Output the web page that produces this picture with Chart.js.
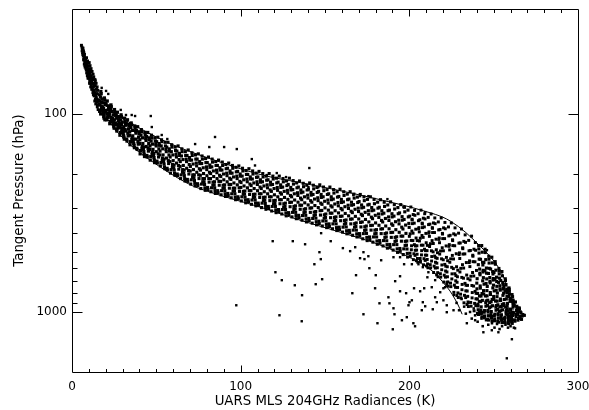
<!DOCTYPE html>
<html>
<head>
<meta charset="utf-8">
<script src="https://cdn.jsdelivr.net/npm/chart.js@4.4.1/dist/chart.umd.min.js"></script>
<style>
html,body{margin:0;padding:0;background:#fff;}
canvas{display:block;}
</style>
</head>
<body>
<canvas id="c" width="589" height="410"></canvas>
<script>
// Radiance (K) vs tangent pressure (hPa) pairs, grouped by region of the plot.
const tipBand = [
[5.6,45],[5.9,46],[6.2,47],[6.0,48],[6.5,46.5],[6.8,48],[6.4,50],[7.0,49],[7.2,51],[6.9,53],[7.5,52],[7.6,55],[7.9,54],[7.3,56],[8.1,57],[8.3,55],[7.8,58],
[8.6,52],[8.8,56],[8.5,60],[9.0,58],[9.2,54],[9.4,62],[9.1,64],[9.7,57],[9.8,61],[10.0,66],[9.6,65],[10.2,55],[10.3,63],[10.5,68],[10.1,59],
[10.7,57],[10.8,62],[11.0,66],[10.9,70],[11.3,59],[11.4,64],[11.6,68],[11.5,72],[11.9,61],[12.0,66],[12.2,70],[12.1,75],[12.5,63],[12.6,73],[12.4,78],
[12.9,65],[13.0,70],[13.1,76],[13.2,81],[13.6,67],[13.8,72],[13.7,78],[13.9,84],[14.3,70],[14.5,75],[14.4,82],[14.6,87],[14.9,73],[15.0,79],[15.2,85],[15.1,90],
[6.3,49],[6.7,51],[7.1,53.5],[7.4,50],[7.7,57],[8.0,53],
[8.3,59],[8.7,62],[8.9,55],[9.3,60],[9.5,66],[9.9,63],[10.4,60],
[10.4,70],[10.6,65],[11.1,73],[11.2,61],[11.7,75],[11.8,70],[12.3,67],[12.7,80],
[12.8,77],[13.3,72],[13.5,86],[13.8,68],[14.0,80],[14.1,89],
[14.7,84],[15.0,92],[15.3,76],[15.5,95],[15.9,85],[16.2,80]
];

const upperBand = [
[16.1,89],[17.3,79],[16.7,96],[17.8,84],[16.4,97],[17.1,77],[17.6,92],[16.2,86],[16.9,82],[17.5,94],
[19.2,83],[18.3,98],[19.7,88],[18.8,103],[18.0,92],[19.4,85],[18.5,96],[19.0,105],[19.9,90],[18.6,100],
[20.6,107],[21.5,95],[20.2,89],[21.1,99],[21.8,92],[20.4,106],[20.9,86],[21.3,102],[20.0,97],[21.7,91],
[22.1,102],[23.3,92],[22.7,109],[23.8,97],[22.4,112],[23.1,90],[23.6,105],[22.2,99],[22.9,95],[23.5,107],
[25.2,95],[24.3,111],[25.7,100],[24.8,116],[24.0,105],[25.4,98],[24.5,109],[25.0,118],[25.9,102],[24.6,113],
[26.6,122],[27.5,108],[26.2,101],[27.1,113],[27.8,104],[26.4,120],[26.9,98],[27.3,116],[26.0,111],[27.7,103],
[28.1,116],[29.3,103],[28.7,124],[29.8,110],[28.4,128],[29.1,101],[29.6,119],[28.2,112],[28.9,107],[29.5,122],
[31.2,105],[30.3,125],[31.7,112],[30.8,131],[30.0,118],[31.4,109],[30.5,122],[31.0,134],[31.9,114],[30.6,128],
[32.6,137],[33.5,119],[32.2,111],[33.1,125],[33.8,115],[32.4,134],[32.9,107],[33.3,129],[32.0,122],[33.7,113],
[34.1,128],[35.3,113],[34.7,138],[35.8,121],[34.4,143],[35.1,111],[35.6,132],[34.2,123],[34.9,117],[35.5,135],
[37.2,115],[36.3,138],[37.7,122],[36.8,144],[36.0,129],[37.4,118],[36.5,134],[37.0,148],[37.9,125],[36.6,141],
[38.6,151],[39.5,131],[38.2,121],[39.1,138],[39.8,126],[38.4,149],[38.9,116],[39.3,142],[38.0,134],[39.7,123],
[40.1,141],[41.3,123],[40.7,153],[41.8,132],[40.4,159],[41.1,120],[41.6,146],[40.2,135],[40.9,128],[41.5,150],
[43.2,124],[42.3,151],[43.7,133],[42.8,160],[42.0,141],[43.4,128],[42.5,147],[43.0,164],[43.9,136],[42.6,155],
[44.6,165],[45.5,141],[44.2,130],[45.1,149],[45.8,135],[44.4,162],[44.9,124],[45.3,154],[44.0,146],[45.7,132],
[46.1,151],[47.3,132],[46.7,164],[47.8,142],[46.4,171],[47.1,128],[47.6,156],[46.2,145],[46.9,137],[47.5,160],
[49.2,132],[48.3,162],[49.7,142],[48.8,171],[48.0,151],[49.4,137],[48.5,158],[49.0,176],[49.9,145],[48.6,166],
[16.6,90],[17.0,100],[17.4,87],[17.9,95],[18.2,88],[18.7,94],[19.1,99],[19.5,107],[19.8,96],
[20.7,100],[21.2,104],[21.9,100],[22.5,96],[23.0,104],[23.9,109],[24.4,101],[25.1,107],[25.8,113],
[26.5,105],[27.2,118],[27.9,110],[28.6,117],[29.3,113],[30.0,124],[30.7,116],[31.5,120]
];

const midBand = [
[50.6,177],[51.5,150],[50.2,138],[51.1,159],[51.8,144],[50.4,173],[50.9,131],[51.3,165],[50.0,155],[51.7,141],
[52.1,161],[53.3,138],[52.7,176],[53.8,150],[52.4,183],[53.1,135],[53.6,167],[52.2,154],[52.9,145],[53.5,172],
[55.2,139],[54.3,174],[55.7,151],[54.8,185],[54.0,161],[55.4,145],[54.5,169],[55.0,189],[55.9,155],[54.6,179],
[56.6,192],[57.5,161],[56.2,147],[57.1,172],[57.8,154],[56.4,188],[56.9,139],[57.3,178],[56.0,167],[57.7,150],
[58.1,174],[59.3,147],[58.7,191],[59.8,161],[58.4,199],[59.1,143],[59.6,180],[58.2,165],[58.9,155],[59.5,186],
[61.2,147],[60.3,187],[61.7,160],[60.8,199],[60.0,172],[61.4,153],[60.5,181],[61.0,204],[61.9,165],[60.6,192],
[62.6,205],[63.5,170],[62.2,154],[63.1,182],[63.8,162],[62.4,201],[62.9,145],[63.3,190],[62.0,177],[63.7,158],
[64.1,184],[65.3,155],[64.7,203],[65.8,170],[64.4,212],[65.1,150],[65.6,191],[64.2,174],[64.9,163],[65.5,197],
[67.2,155],[66.3,199],[67.7,169],[66.8,212],[66.0,182],[67.4,162],[66.5,192],[67.0,218],[67.9,174],[66.6,205],
[68.6,219],[69.5,180],[68.2,162],[69.1,193],[69.8,171],[68.4,214],[68.9,152],[69.3,201],[68.0,188],[69.7,166],
[70.1,194],[71.3,162],[70.7,215],[71.8,179],[70.4,226],[71.1,157],[71.6,203],[70.2,184],[70.9,171],[71.5,209],
[73.2,161],[72.3,210],[73.7,177],[72.8,224],[72.0,191],[73.4,169],[72.5,203],[73.0,231],[73.9,183],[72.6,217],
[74.6,230],[75.5,189],[74.2,169],[75.1,203],[75.8,178],[74.4,225],[74.9,159],[75.3,212],[74.0,197],[75.7,174],
[76.1,204],[77.3,169],[76.7,226],[77.8,187],[76.4,238],[77.1,163],[77.6,212],[76.2,192],[76.9,178],[77.5,220],
[79.2,168],[78.3,220],[79.7,185],[78.8,236],[78.0,200],[79.4,176],[78.5,212],[79.0,243],[79.9,191],[78.6,227],
[80.6,241],[81.5,197],[80.2,176],[81.1,212],[81.8,186],[80.4,235],[80.9,165],[81.3,221],[80.0,205],[81.7,181],
[82.1,212],[83.3,175],[82.7,236],[83.8,194],[82.4,247],[83.1,169],[83.6,221],[82.2,200],[82.9,185],[83.5,229],
[85.2,174],[84.3,228],[85.7,192],[84.8,244],[84.0,207],[85.4,182],[84.5,220],[85.0,252],[85.9,198],[84.6,236],
[86.6,250],[87.5,204],[86.2,182],[87.1,219],[87.8,192],[86.4,244],[86.9,171],[87.3,229],[86.0,212],[87.7,187],
[88.1,219],[89.3,182],[88.7,244],[89.8,201],[88.4,256],[89.1,175],[89.6,229],[88.2,207],[88.9,192],[89.5,237],
[91.2,180],[90.3,236],[91.7,199],[90.8,253],[90.0,215],[91.4,189],[90.5,228],[91.0,261],[91.9,205],[90.6,244],
[92.6,259],[93.5,211],[92.2,188],[93.1,227],[93.8,199],[92.4,252],[92.9,177],[93.3,237],[92.0,220],[93.7,194],
[94.1,227],[95.3,188],[94.7,253],[95.8,208],[94.4,265],[95.1,182],[95.6,237],[94.2,214],[94.9,199],[95.5,245],
[97.2,186],[96.3,245],[97.7,206],[96.8,263],[96.0,223],[97.4,196],[96.5,237],[97.0,271],[97.9,212],[96.6,253],
[98.6,268],[99.5,219],[98.2,195],[99.1,236],[99.8,206],[98.4,262],[98.9,183],[99.3,246],[98.0,228],[99.7,201],
[100.1,235],[101.3,194],[100.7,262],[101.8,215],[100.4,275],[101.1,188],[101.6,246],[100.2,222],[100.9,206],[101.5,254],
[103.2,193],[102.3,254],[103.7,213],[102.8,272],[102.0,231],[103.4,202],[102.5,245],[103.0,281],[103.9,220],[102.6,263],
[104.6,278],[105.5,226],[104.2,202],[105.1,244],[105.8,213],[104.4,271],[104.9,189],[105.3,255],[104.0,236],[105.7,208],
[106.1,244],[107.3,201],[106.7,272],[107.8,223],[106.4,286],[107.1,194],[107.6,255],[106.2,230],[106.9,213],[107.5,264],
[109.2,199],[108.3,263],[109.7,220],[108.8,282],[108.0,238],[109.4,209],[108.5,254],[109.0,291],[109.9,227],[108.6,272],
[110.6,289],[111.5,234],[110.2,208],[111.1,253],[111.8,221],[110.4,282],[110.9,195],[111.3,264],[110.0,244],[111.7,215],
[112.1,253],[113.3,208],[112.7,282],[113.8,231],[112.4,297],[113.1,200],[113.6,264],[112.2,238],[112.9,220],[113.5,274],
[115.2,206],[114.3,273],[115.7,228],[114.8,293],[114.0,247],[115.4,216],[114.5,263],[115.0,303],[115.9,236],[114.6,283],
[116.6,300],[117.5,242],[116.2,215],[117.1,262],[117.8,228],[116.4,293],[116.9,200],[117.3,274],[116.0,253],[117.7,221],
[118.1,262],[119.3,213],[118.7,293],[119.8,238],[118.4,309],[119.1,206],[119.6,274],[118.2,246],[118.9,227],[119.5,284],
[121.2,211],[120.3,283],[121.7,235],[120.8,305],[120.0,256],[121.4,223],[120.5,273],[121.0,315],[121.9,243],[120.6,293],
[122.6,312],[123.5,250],[122.2,221],[123.1,271],[123.8,235],[122.4,304],[122.9,206],[123.3,284],[122.0,262],[123.7,228],
[124.1,271],[125.3,220],[124.7,304],[125.8,246],[124.4,320],[125.1,212],[125.6,284],[124.2,254],[124.9,234],[125.5,295],
[127.2,218],[126.3,293],[127.7,243],[126.8,316],[126.0,264],[127.4,230],[126.5,282],[127.0,327],[127.9,251],[126.6,304],
[128.6,323],[129.5,258],[128.2,227],[129.1,280],[129.8,242],[128.4,315],[128.9,211],[129.3,294],[128.0,270],[129.7,235],
[130.1,279],[131.3,226],[130.7,314],[131.8,253],[130.4,331],[131.1,217],[131.6,293],[130.2,262],[130.9,241],[131.5,304],
[133.2,223],[132.3,302],[133.7,250],[132.8,326],[132.0,272],[133.4,236],[132.5,291],[133.0,338],[133.9,258],[132.6,314],
[134.6,334],[135.5,266],[134.2,234],[135.1,289],[135.8,250],[134.4,325],[134.9,218],[135.3,303],[134.0,279],[135.7,242],
[136.1,289],[137.3,233],[136.7,326],[137.8,262],[136.4,344],[137.1,224],[137.6,303],[136.2,271],[136.9,248],[137.5,315],
[139.2,229],[138.3,313],[139.7,257],[138.8,339],[138.0,281],[139.4,242],[138.5,301],[139.0,351],[139.9,266],[138.6,325],
[140.6,346],[141.5,274],[140.2,240],[141.1,299],[141.8,257],[140.4,337],[140.9,223],[141.3,314],[140.0,288],[141.7,249],
[142.1,298],[143.3,239],[142.7,337],[143.8,269],[142.4,356],[143.1,229],[143.6,313],[142.2,279],[142.9,255],[143.5,326],
[145.2,235],[144.3,323],[145.7,265],[144.8,350],[144.0,290],[145.4,249],[144.5,311],[145.0,363],[145.9,274],[144.6,336],
[146.6,358],[147.5,282],[146.2,246],[147.1,308],[147.8,264],[146.4,348],[146.9,228],[147.3,324],[146.0,297],[147.7,255],
[148.1,307],[149.3,244],[148.7,347],[149.8,276],[148.4,368],[149.1,234],[149.6,323],[148.2,286],[148.9,262],[149.5,336],
[151.2,241],[150.3,333],[151.7,272],[150.8,361],[150.0,298],[151.4,255],[150.5,320],[151.0,375],[151.9,282],[150.6,347],
[152.6,370],[153.5,291],[152.2,253],[153.1,317],[153.8,271],[152.4,359],[152.9,234],[153.3,334],[152.0,306],[153.7,262],
[154.1,317],[155.3,251],[154.7,359],[155.8,285],[154.4,380],[155.1,241],[155.6,333],[154.2,295],[154.9,269],[155.5,347],
[157.2,247],[156.3,345],[157.7,280],[156.8,375],[156.0,308],[157.4,263],[156.5,331],[157.0,388],[157.9,291],[156.6,359],
[158.6,384],[159.5,300],[158.2,261],[159.1,329],[159.8,280],[158.4,373],[158.9,240],[159.3,346],[158.0,316],[159.7,270],
[160.1,328],[161.3,258],[160.7,373],[161.8,294],[160.4,395],[161.1,247],[161.6,345],[160.2,305],[160.9,278],[161.5,360],
[163.2,254],[162.3,357],[163.7,289],[162.8,389],[162.0,318],[163.4,271],[162.5,343],[163.0,403],[163.9,300],[162.6,372],
[164.6,398],[165.5,310],[164.2,269],[165.1,340],[165.8,289],[164.4,387],[164.9,247],[165.3,359],[164.0,327],[165.7,279],
[166.1,339],[167.3,266],[166.7,386],[167.8,303],[166.4,410],[167.1,254],[167.6,358],[166.2,315],[166.9,287],[167.5,373],
[169.2,263],[168.3,370],[169.7,299],[168.8,403],[168.0,329],[169.4,280],[168.5,355],[169.0,418],[169.9,311],[168.6,386],
[170.6,414],[171.5,321],[170.2,277],[171.1,353],[171.8,298],[170.4,402],[170.9,255],[171.3,372],[170.0,339],[171.7,288],
[172.1,351],[173.3,274],[172.7,402],[173.8,314],[172.4,427],[173.1,262],[173.6,371],[172.2,326],[172.9,296],[173.5,387],
[175.2,270],[174.3,385],[175.7,308],[174.8,420],[174.0,341],[175.4,288],[174.5,368],[175.0,436],[175.9,321],[174.6,401],
[176.6,431],[177.5,332],[176.2,286],[177.1,366],[177.8,308],[176.4,418],[176.9,262],[177.3,386],[176.0,351],[177.7,297],
[178.1,365],[179.3,284],[178.7,418],[179.8,325],[178.4,444],[179.1,270],[179.6,386],[178.2,338],[178.9,306],[179.5,403],
[181.2,279],[180.3,401],[181.7,320],[180.8,438],[180.0,355],[181.4,299],[180.5,384],[181.0,455],[181.9,333],[180.6,418],
[182.6,449],[183.5,345],[182.2,296],[183.1,381],[183.8,320],[182.4,436],[182.9,271],[183.3,402],[182.0,365],[183.7,308],
[184.1,380],[185.3,293],[184.7,436],[185.8,337],[184.4,464],[185.1,279],[185.6,402],[184.2,351],[184.9,317],[185.5,420],
[187.2,288],[186.3,418],[187.7,331],[186.8,457],[186.0,368],[187.4,308],[186.5,399],[187.0,476],[187.9,345],[186.6,437],
[188.6,471],[189.5,359],[188.2,306],[189.1,397],[189.8,331],[188.4,456],[188.9,278],[189.3,420],[188.0,380],[189.7,319],
[190.1,396],[191.3,302],[190.7,457],[191.8,350],[190.4,487],[191.1,287],[191.6,420],[190.2,365],[190.9,328],[191.5,440],
[193.2,297],[192.3,437],[193.7,344],[192.8,480],[192.0,384],[193.4,319],[192.5,417],[193.0,500],[193.9,359],[192.6,457],
[194.6,494],[195.5,373],[194.2,316],[195.1,414],[195.8,344],[194.4,478],[194.9,287],[195.3,439],[194.0,396],[195.7,330],
[196.1,414],[197.3,312],[196.7,480],[197.8,364],[196.4,513],[197.1,296],[197.6,440],[196.2,381],[196.9,341],[197.5,461],
[199.2,306],[198.3,460],[199.7,357],[198.8,506],[198.0,401],[199.4,331],[198.5,438],[199.0,528],[199.9,374],[198.6,481]
];

const kneeBand = [
[200.6,523],[201.5,390],[200.2,328],[201.1,435],[201.8,358],[200.4,505],[200.9,295],[201.3,463],[200.0,415],[201.7,343],[200.5,403],[201.2,485],[201.6,340],
[202.1,436],[203.3,325],[202.7,508],[203.8,382],[202.4,544],[203.1,307],[203.6,464],[202.2,400],[202.9,356],[203.5,488],[203.0,457],[202.3,322],[203.4,518],
[205.2,319],[204.3,487],[205.7,375],[204.8,537],[204.0,423],[205.4,346],[204.5,463],[205.0,561],[205.9,394],[204.6,511],[205.5,380],[204.7,436],[204.2,551],
[206.6,556],[207.5,411],[206.2,342],[207.1,460],[207.8,375],[206.4,537],[206.9,306],[207.3,490],[206.0,438],[207.7,359],[206.5,424],[207.2,515],[207.6,356],
[208.1,460],[209.3,339],[208.7,538],[209.8,401],[208.4,578],[209.1,319],[209.6,490],[208.2,420],[208.9,372],[209.5,516],[209.0,482],[208.3,336],[209.4,549],
[211.2,333],[210.3,517],[211.7,394],[210.8,572],[210.0,447],[211.4,362],[210.5,490],[211.0,598],[211.9,415],[210.6,543],[211.5,400],[210.7,461],[210.2,586],
[212.6,599],[213.5,436],[212.2,360],[213.1,491],[213.8,397],[212.4,577],[212.9,320],[213.3,525],[212.0,467],[213.7,378],[212.5,452],[213.2,553],[213.6,375],
[214.1,497],[215.3,358],[214.7,587],[215.8,429],[214.4,632],[215.1,335],[215.6,532],[214.2,451],[214.9,397],[215.5,561],[215.0,522],[214.3,355],[215.4,600],
[217.2,351],[216.3,567],[217.7,423],[216.8,633],[216.0,485],[217.4,385],[216.5,536],[217.0,664],[217.9,447],[216.6,598],[217.5,430],[216.7,502],[216.2,650],
[218.6,667],[219.5,474],[218.2,383],[219.1,539],[219.8,426],[218.4,641],[218.9,335],[219.3,579],[218.0,510],[219.7,404],[218.5,492],[219.2,612],[219.6,401],
[220.1,545],[221.3,380],[220.7,652],[221.8,464],[220.4,706],[221.1,353],[221.6,587],[220.2,491],[220.9,426],[221.5,621],[221.0,575],[220.3,376],[221.4,667],
[223.2,372],[222.3,628],[223.7,457],[222.8,705],[222.0,530],[223.4,413],[222.5,591],[223.0,741],[223.9,486],[222.6,664],[223.5,466],[222.7,551],[222.2,725],
[224.6,745],[225.5,518],[224.2,410],[225.1,595],[225.8,462],[224.4,715],[224.9,355],[225.3,642],[224.0,561],[225.7,436],[224.5,539],[225.2,681],[225.6,432],
[226.1,604],[227.3,408],[226.7,732],[227.8,508],[226.4,796],[227.1,376],[227.6,655],[226.2,540],[226.9,463],[227.5,696],[227.0,641],[226.3,403],[227.4,751],
[229.2,400],[228.3,708],[229.7,503],[228.8,801],[228.0,591],[229.4,449],[228.5,664],[229.0,845],[229.9,537],[228.6,752],[229.5,513],[228.7,615],[228.2,826],
[230.6,849],[231.5,577],[230.2,448],[231.1,669],[231.8,510],[230.4,813],[230.9,381],[231.3,726],[230.0,628],[231.7,479],[230.5,602],[231.2,772],[231.6,474],
[232.1,675],[233.3,445],[232.7,824],[233.8,563],[232.4,899],[233.1,408],[233.6,733],[232.2,600],[232.9,509],[233.5,782],[233.0,717],[232.3,440],[233.4,846],
[235.2,435],[234.3,784],[235.7,552],[234.8,890],[234.0,651],[235.4,491],[234.5,734],[235.0,939],[235.9,590],[234.6,834],[235.5,563],[234.7,679],[234.2,917],
[236.6,935],[237.5,632],[236.2,489],[237.1,735],[237.8,557],[236.4,895],[236.9,414],[237.3,798],[236.0,689],[237.7,523],[236.5,660],[237.2,849],[237.6,517],
[238.1,740],[239.3,488],[238.7,905],[239.8,617],[238.4,987],[239.1,446],[239.6,805],[238.2,658],[238.9,558],[239.5,858],[239.0,787],[238.3,482],[239.4,929]
];

const denseBlob = [
[240.1,764],[241.3,504],[240.7,932],[241.8,637],[240.4,1017],[241.1,462],[241.6,830],[240.2,679],[240.9,577],[241.5,884],
[241.2,480],[240.3,860],[241.7,607],[240.8,975],[240.0,715],[241.4,541],[240.5,806],[241.0,1029],[241.9,649],[240.6,914],
[243.2,499],[242.3,887],[243.7,628],[242.8,1004],[242.0,739],[243.4,561],[242.5,831],[243.0,1059],[243.9,671],[242.6,942],
[242.7,1022],[243.5,696],[242.2,542],[243.1,807],[243.8,616],[242.4,979],[242.9,462],[243.3,874],[242.1,758],[243.6,579],
[244.6,1047],[245.5,718],[244.2,563],[245.1,830],[245.8,637],[244.4,1003],[244.9,482],[245.3,898],[244.0,780],[245.7,600],
[244.1,811],[245.3,544],[244.7,985],[245.9,681],[244.5,1071],[245.0,501],[245.6,879],[244.3,724],[244.8,619],[245.4,935],
[246.1,829],[247.3,566],[246.7,1001],[247.8,700],[246.4,1087],[247.1,523],[247.6,897],[246.2,743],[246.9,639],[247.5,952],
[247.2,541],[246.3,927],[247.7,670],[246.8,1044],[246.0,780],[247.4,602],[246.5,872],[247.0,1099],[247.9,713],[246.6,982],
[249.2,565],[248.3,942],[249.7,690],[248.8,1055],[248.0,798],[249.4,625],[248.5,888],[249.0,1109],[249.9,732],[248.6,995],
[248.7,1073],[249.5,756],[248.2,607],[249.1,864],[249.8,678],[248.4,1031],[248.9,529],[249.3,930],[248.1,816],[249.6,643],
[250.6,1084],[251.5,777],[250.2,632],[251.1,881],[251.8,702],[250.4,1044],[250.9,557],[251.3,945],[250.0,835],[251.7,667],
[250.1,864],[251.3,615],[250.7,1026],[251.9,742],[250.5,1108],[251.0,574],[251.6,928],[250.3,783],[250.8,684],[251.4,980],
[252.1,881],[253.3,642],[252.7,1037],[253.8,764],[252.4,1115],[253.1,603],[253.6,943],[252.2,803],[252.9,709],[253.5,993],
[253.2,620],[252.3,970],[253.7,737],[252.8,1076],[252.0,837],[253.4,675],[252.5,920],[253.0,1126],[253.9,776],[252.6,1021],
[255.2,657],[254.3,986],[255.7,766],[254.8,1085],[254.0,860],[255.4,709],[254.5,939],[255.0,1132],[255.9,803],[254.6,1033],
[254.7,1100],[255.5,824],[254.2,693],[255.1,918],[255.8,756],[254.4,1064],[254.9,625],[255.3,975],[254.1,876],[255.6,725],
[256.6,1112],[257.5,860],[256.2,741],[257.1,946],[257.8,798],[256.4,1079],[256.9,680],[257.3,998],[256.0,908],[257.7,770],
[256.1,931],[257.3,727],[256.7,1064],[257.9,832],[256.5,1131],[257.0,694],[257.6,984],[256.3,865],[256.8,784],[257.4,1026],
[258.1,963],[259.3,785],[258.7,1079],[259.8,876],[258.4,1138],[259.1,756],[259.6,1009],[258.2,905],[258.9,835],[259.5,1046],
[259.2,768],[258.3,1030],[259.7,855],[258.8,1109],[258.0,930],[259.4,810],[258.5,992],[259.0,1146],[259.9,884],[258.6,1067],
[261.2,837],[260.3,1048],[261.7,907],[260.8,1112],[260.0,967],[261.4,870],[260.5,1018],[261.0,1142],[261.9,931],[260.6,1078],
[260.7,1122],[261.5,944],[260.2,860],[261.1,1004],[261.8,900],[260.4,1098],[260.9,817],[261.3,1041],[260.1,978],[261.6,880],
[262.6,1113],[263.5,983],[262.2,922],[263.1,1027],[263.8,951],[262.4,1096],[262.9,890],[263.3,1054],[262.0,1008],[263.7,936],
[264.1,1033],[265.3,964],[264.7,1078],[265.8,999],[264.4,1100],[265.1,953],[265.6,1051],[264.2,1011],[264.9,983],[265.5,1065],
[266.2,1010],[266.8,1050],[267.3,1030],[268.2,1040],[266.5,1090]
];

const kneeScatter = [
[226.5,820],[228.0,900],[229.5,980],[231.0,860],[232.5,940],[233.5,1020],[235.0,900],[236.0,1000],[237.0,1080],[238.2,960],[239.0,1040],[240.5,1120],[241.5,1000],[242.8,1080],
[243.5,1180],[244.5,980],[245.5,1100],[246.8,1160],[247.8,1050],[249.0,1140],[250.5,1200],[252.0,1150],[253.5,1220],[255.0,1180],[257.0,1160],[258.5,1200],[260.0,1180],[262.0,1200]
];

const pointsAbove = [
[17.6,73.8],[20.2,76.5],[21.5,79.2],[28.9,95.4],[32.0,101.2],[35.4,101.2],[37.4,102.4],[46.7,102.4],[47.3,116.4],[53.2,127.7],[56.5,133.8],
[73.0,141.9],[81.4,146.9],[84.8,130.7],[90.2,146.9],[97.7,150.4],[106.6,169],[108.5,182],[115.5,203.5],[121.4,198.8],[126.9,208.3],
[140.7,187.5],[146.1,234],[140.2,234],[166.8,256.9],[170.8,260],[175.7,260],[187.0,269.2],[196.5,295.4],[209.4,313.1],[246.0,487.4]
];

const pointsBelow = [
[97.4,925],[119.0,439],[130.9,439],[120.6,630],[124.4,691],[132.1,733],[123.0,1039],[136.2,1114],[136.4,823],[138.2,455],[147.7,400],[146.7,499],[147.5,541],[143.7,574],[144.5,724],[148.3,683],
[153.4,439],[160.6,476],[167.9,471],[172.8,499],[164.9,493],[170.8,535],[173.4,541],[175.7,523],[183.3,548],[176.3,601],[168.4,652],[180.1,652],[166.2,804],[179.7,759],[172.8,1027],[181.1,1140],
[182.3,904],[187.6,843],[188.2,904],[190.6,958],[191.2,1027],[190.2,1223],[195.6,1101],[198.5,1063],[203.4,1181],[202.4,1140],[191.6,699],[194.5,660],[194.5,786],[198.1,804],[200.1,893],[199.5,925],
[201.5,873],[202.8,759],[206.4,786],[208.0,893],[209.4,936],[207.4,980],[210.7,668],[208.8,759],[213.3,750],[215.3,843],[216.3,893],[218.3,795],[221.2,750],[220.2,873],[222.2,708],[215.3,691],
[211.3,630],[208.0,594],[201.5,574],[194.5,529],[190.6,529],[196.9,574],[205.4,574],[226.2,980],[213.9,969],[222.2,1003],[220.2,759],[222.2,925],
[234.1,1140],[239.0,1101],[243.9,1266],[248.9,1237],[252.8,1266],[260.8,1373],[257.8,1714],[262.7,1209],[267.7,1039]
];

// The two reference curves drawn over the scatter.
const upperCurveK   = [5.9, 10.7, 16.6, 22.5, 36.2, 58.1, 81.8, 111.5, 135.2, 158.9, 182.7, 206.4, 224.2, 242.0, 253.9, 259.8, 261.6];
const upperCurveHPa = [46.4, 65.7, 82.0, 95.4, 113, 141, 168, 202, 222, 244, 271, 305, 347, 465, 615, 843, 980];
const lowerCurveK   = [5.9, 9.5, 14.8, 21.4, 31.4, 46.3, 68.2, 81.8, 111.5, 135.2, 159.0, 184.5, 210.6, 222.4, 228.4, 231.3];
const lowerCurveHPa = [46.4, 64.2, 85.0, 107.2, 135.4, 171, 223.4, 248, 295.4, 343.8, 395.3, 465.3, 594, 750, 903, 1027];

// Axis ticks.
const radianceTicks = [0, 100, 200, 300];
const radianceMinorStep = 10;
const pressureTicks = [100, 1000];
const pressureMinorTicks = [200, 300, 400, 500, 600, 700, 800, 900];

const toXY = pairs => pairs.map(([x, y]) => ({x, y}));
const curveXY = (xs, ys) => xs.map((x, i) => ({x, y: ys[i]}));

const dots = r => ({
  pointStyle: 'rect',
  pointRadius: r,
  pointBorderWidth: 0,
  pointBackgroundColor: '#000',
  pointHoverRadius: r,
  showLine: false
});
const curve = {
  type: 'line',
  showLine: true,
  borderColor: '#000',
  borderWidth: 1,
  pointRadius: 0,
  tension: 0.35,
  fill: false
};

// Box frame with inward-pointing major and minor ticks on all four sides.
const frameAndTicks = {
  id: 'frameAndTicks',
  afterDatasetsDraw(chart) {
    const {ctx, chartArea: a, scales: {x, y}} = chart;
    const L = Math.round(a.left) + 0.5, R = Math.round(a.right) + 0.5;
    const T = Math.round(a.top) + 0.5, B = Math.round(a.bottom) + 0.5;
    ctx.save();
    ctx.strokeStyle = '#000';
    ctx.lineWidth = 1;
    ctx.beginPath();
    ctx.moveTo(L, T); ctx.lineTo(R, T); ctx.lineTo(R, B); ctx.lineTo(L, B); ctx.closePath();
    for (let v = radianceMinorStep; v < 300; v += radianceMinorStep) {
      const px = Math.round(x.getPixelForValue(v)) + 0.5;
      const len = radianceTicks.includes(v) ? 7 : 3.5;
      ctx.moveTo(px, B); ctx.lineTo(px, B - len);
      ctx.moveTo(px, T); ctx.lineTo(px, T + len);
    }
    const yt = pressureTicks.map(v => [v, 10]).concat(pressureMinorTicks.map(v => [v, 5]));
    for (const [v, len] of yt) {
      const py = Math.round(y.getPixelForValue(v)) + 0.5;
      ctx.moveTo(L, py); ctx.lineTo(L + len, py);
      ctx.moveTo(R, py); ctx.lineTo(R - len, py);
    }
    ctx.stroke();
    ctx.restore();
  }
};

const labelFont = {family: 'DejaVu Sans', size: 12};
const titleFont = {family: 'DejaVu Sans', size: 13.3};

new Chart(document.getElementById('c'), {
  type: 'scatter',
  data: {
    // Curves first so they are painted over the dots.
    datasets: [
      Object.assign({data: curveXY(upperCurveK, upperCurveHPa)}, curve),
      Object.assign({data: curveXY(lowerCurveK, lowerCurveHPa)}, curve),
      Object.assign({data: toXY(tipBand)}, dots(2.1)),
      Object.assign({data: toXY(upperBand)}, dots(2.3)),
      Object.assign({data: toXY(midBand)}, dots(2.2)),
      Object.assign({data: toXY(kneeBand)}, dots(2.1)),
      Object.assign({data: toXY(denseBlob)}, dots(2.2)),
      Object.assign({data: toXY(kneeScatter)}, dots(1.8)),
      Object.assign({data: toXY(pointsAbove)}, dots(1.7)),
      Object.assign({data: toXY(pointsBelow)}, dots(1.7))
    ]
  },
  options: {
    responsive: false,
    animation: false,
    devicePixelRatio: 1,
    layout: {padding: {top: 9, right: 11, left: 0, bottom: 0}},
    plugins: {legend: {display: false}, tooltip: {enabled: false}},
    events: [],
    scales: {
      x: {
        type: 'linear',
        position: 'bottom',
        min: 0,
        max: 300,
        grid: {display: false, drawTicks: false},
        border: {display: false},
        afterBuildTicks: s => { s.ticks = radianceTicks.map(v => ({value: v})); },
        afterFit: s => { s.height = 38; s.paddingLeft = 0; s.paddingRight = 0; },
        ticks: {color: '#000', font: labelFont, padding: 8, maxRotation: 0, autoSkip: false,
                callback: v => String(v)},
        title: {display: true, text: 'UARS MLS 204GHz Radiances (K)', color: '#000', font: titleFont,
                padding: {top: 0, bottom: 0}}
      },
      y: {
        type: 'logarithmic',
        position: 'left',
        reverse: true,
        min: 29.5,
        max: 2010,
        grid: {display: false, drawTicks: false},
        border: {display: false},
        afterBuildTicks: s => { s.ticks = pressureTicks.map(v => ({value: v})); },
        afterFit: s => { s.width = 72; s.paddingTop = 0; s.paddingBottom = 0; },
        ticks: {color: '#000', font: labelFont, padding: 5, autoSkip: false,
                callback: v => String(v)},
        title: {display: true, text: 'Tangent Pressure (hPa)', color: '#000', font: titleFont,
                padding: {top: 11.5, bottom: 0}}
      }
    }
  },
  plugins: [frameAndTicks]
});
</script>
</body>
</html>
